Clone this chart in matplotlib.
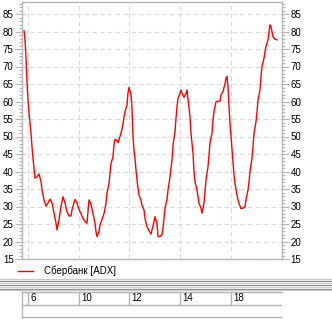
import matplotlib
matplotlib.use('Agg')
import matplotlib.pyplot as plt
from matplotlib.lines import Line2D
from matplotlib.ticker import MultipleLocator

plt.rcParams['font.family'] = ['Liberation Sans', 'DejaVu Sans']

# ADX values (x = bar index)
bars = [0, 1, 2, 3, 4, 5, 6, 7, 8, 9, 10, 11, 13, 15, 17, 18, 20, 22, 24, 26,
        28, 30, 32, 33, 35, 37, 39, 41, 43, 45, 47, 48, 50, 51, 53, 55, 57, 59,
        61, 63, 64, 65, 67, 69, 71, 72, 73, 75, 76, 78, 80, 82, 83, 85, 86, 87,
        89, 90, 91, 93, 94, 96, 98, 100, 101, 103, 104, 105, 107, 108, 109, 110,
        111, 112, 113, 114, 115, 117, 118, 120, 121, 123, 125, 127, 128, 130,
        131, 133, 134, 136, 138, 139, 140, 141, 143, 144, 145, 146, 148, 149,
        151, 152, 153, 154, 156, 157, 158, 160, 162, 163, 165, 166, 167, 169,
        170, 171, 173, 174, 175, 177, 178, 180, 181, 182, 184, 185, 186, 188,
        189, 190, 192, 194, 196, 197, 199, 200, 201, 202, 203, 204, 205, 206,
        207, 208, 209, 210, 211, 212, 213, 214, 215, 217, 219, 221, 222, 224,
        225, 226, 228, 229, 230, 232, 233, 234, 236, 237, 238, 240, 241, 242,
        244, 245, 246, 247, 248, 249, 251, 253]
adx = [80.2, 77.6, 72.8, 65.7, 60.4, 56.7, 53.8, 51.0, 47.0, 43.8, 41.0, 38.1,
       38.5, 39.3, 37.1, 34.7, 31.9, 30.1, 31.0, 32.1, 31.0, 28.1, 25.3, 23.3,
       26.1, 30.0, 32.8, 31.0, 28.5, 27.3, 27.3, 29.0, 31.1, 32.0, 31.0, 29.2,
       27.9, 26.6, 25.7, 25.2, 28.5, 31.9, 30.6, 28.0, 25.2, 22.8, 21.4, 22.8,
       24.7, 26.3, 27.9, 30.9, 33.8, 36.6, 39.5, 42.3, 44.2, 47.6, 49.2, 48.8,
       48.2, 50.0, 52.0, 55.5, 57.1, 59.0, 62.5, 64.0, 61.9, 58.1, 50.1, 46.1,
       43.8, 40.4, 37.6, 35.2, 33.3, 31.7, 30.4, 29.0, 26.6, 24.2, 23.1, 22.1,
       23.3, 25.7, 27.1, 25.0, 21.4, 21.4, 22.0, 23.8, 26.6, 29.5, 32.0, 34.7,
       36.6, 38.5, 43.3, 47.5, 51.4, 55.2, 58.5, 60.9, 62.3, 63.3, 62.3, 61.2,
       62.3, 63.3, 58.1, 55.7, 50.9, 45.2, 40.0, 37.1, 34.7, 32.8, 30.9, 29.5,
       28.1, 30.9, 34.2, 37.6, 41.4, 44.7, 48.1, 50.9, 54.7, 57.1, 59.9, 60.1,
       60.1, 61.9, 62.8, 64.0, 65.0, 66.6, 67.1, 64.2, 58.5, 53.8, 50.0, 46.1,
       42.3, 39.0, 36.6, 34.9, 33.3, 31.9, 30.9, 29.4, 29.5, 30.0, 31.9, 34.7,
       37.1, 40.0, 43.8, 47.1, 50.9, 54.2, 57.1, 60.4, 63.3, 67.1, 70.0, 72.3,
       74.2, 75.7, 77.6, 79.9, 81.9, 81.4, 79.9, 78.5, 77.8, 77.6]

date_pos = [4, 55, 105, 156, 207]
date_labels = ['6', '10', '12', '14', '18']
series_name = 'Сбербанк [ADX]'

W, H = 332, 324
fig = plt.figure(figsize=(W / 100, H / 100), dpi=100)

def frac(x0, y0, x1, y1):
    # pixel box (top-left origin) -> figure fraction rect
    return [x0 / W, 1 - y1 / H, (x1 - x0) / W, (y1 - y0) / H]

axc = '#b4b4b4'
gridc = '#d9d9d9'

# main chart
ax = fig.add_axes(frac(22, 2, 282, 259))
ax.plot(bars, adx, color='#ff0000', lw=1.0)
ax.set_xlim(-2, 258)
ax.set_ylim(15, 85 + 12 / 3.5)
ax.set_xticks(date_pos)
ax.set_yticks(range(15, 90, 5))
ax.yaxis.set_minor_locator(MultipleLocator(1))
ax.grid(True, which='major', color=gridc, ls=(0, (4, 3)), lw=0.8)
for s in ax.spines.values():
    s.set_color(axc)
    s.set_linewidth(1.0)
ax.tick_params(axis='x', length=0, labelbottom=False)
ax.tick_params(axis='y', which='major', length=5, width=0.8, color=axc,
               left=True, right=True, labelleft=True, labelright=True,
               labelsize=7, pad=1)
ax.tick_params(axis='y', which='minor', length=2.2, width=0.8, color=axc,
               left=True, right=True)

# legend
fig.add_artist(Line2D([18 / W, 33 / W], [1 - 271 / H] * 2, color='#ff0000', lw=1.0))
fig.text(44 / W, 1 - 271 / H, series_name, fontsize=7, va='center', ha='left')

# splitter bar
for yy, c in [(279, '#c8c8c8'), (280.5, '#8c8c8c'), (282.5, '#d0d0d0'),
              (284.5, '#8c8c8c'), (286.5, '#d0d0d0'), (288.5, '#8c8c8c'),
              (290, '#c8c8c8')]:
    fig.add_artist(Line2D([0, 1], [1 - yy / H] * 2, color=c, lw=0.9))

# date axis panel
axd = fig.add_axes(frac(22, 292, 282, 317))
axd.set_xlim(-2, 258)
axd.set_ylim(0, 1)
axd.set_xticks([])
axd.set_yticks([])
axd.spines['right'].set_visible(False)
for s in ['left', 'top', 'bottom']:
    axd.spines[s].set_color(axc)
    axd.spines[s].set_linewidth(1.0)
axd.axhline(0.5, color=axc, lw=1.0)
axd.vlines(date_pos, 0.5, 1, color=axc, lw=1.0)
for p, lab in zip(date_pos, date_labels):
    axd.text(p + 2.5, 0.76, lab, fontsize=7, va='center', ha='left')

fig.savefig('out.png', dpi=100)
